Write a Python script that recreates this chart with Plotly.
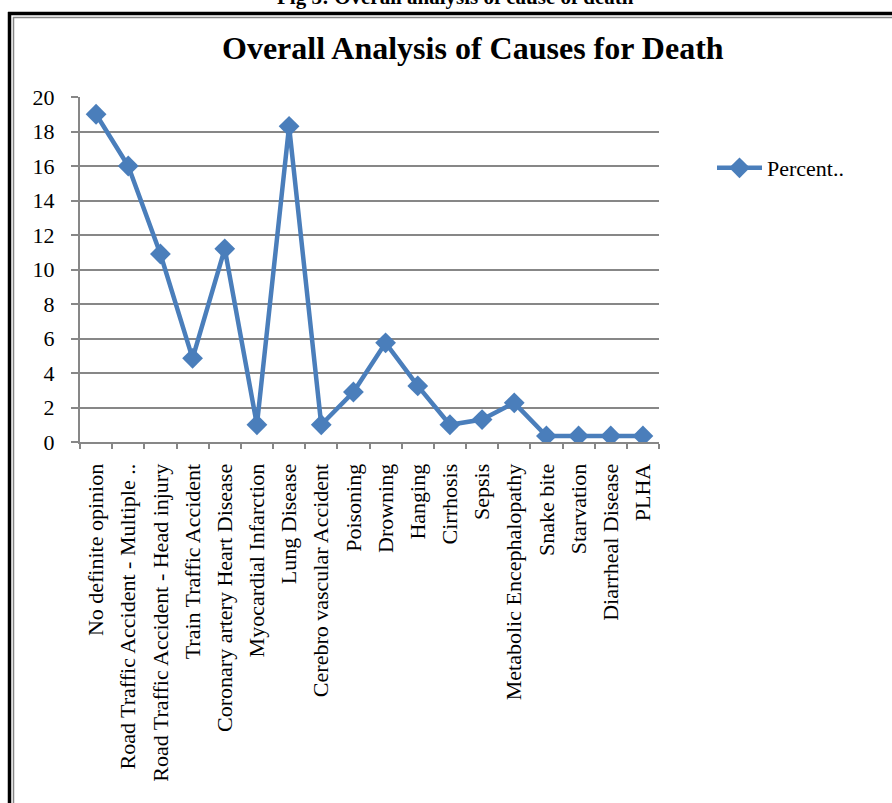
import plotly.graph_objects as go

# Causes of death and their share (percent)
causes = [
    "No definite opinion",
    "Road Traffic Accident - Multiple ..",
    "Road Traffic Accident - Head injury",
    "Train Traffic Accident",
    "Coronary artery Heart Disease",
    "Myocardial Infarction",
    "Lung Disease",
    "Cerebro vascular Accident",
    "Poisoning",
    "Drowning",
    "Hanging",
    "Cirrhosis",
    "Sepsis",
    "Metabolic Encephalopathy",
    "Snake bite",
    "Starvation",
    "Diarrheal Disease",
    "PLHA",
]
percent = [19.0, 16.0, 10.9, 4.85, 11.2, 1.0, 18.3, 1.0, 2.9, 5.75,
           3.25, 1.0, 1.3, 2.27, 0.35, 0.35, 0.35, 0.35]
y_ticks = [0, 2, 4, 6, 8, 10, 12, 14, 16, 18, 20]

W, H = 892, 803
L, R, T, B = 80, 659, 97, 442
FONT = "Liberation Serif, Times New Roman, serif"
BLUE = "#4A7EBB"
GRAY = "#878787"


def px(x):
    return (x - L) / (R - L)


def py(y):
    return (B - y) / (B - T)


fig = go.Figure()
fig.add_trace(go.Scatter(
    x=causes, y=percent, mode="lines+markers", name="Percent..",
    line=dict(color=BLUE, width=4.5),
    marker=dict(symbol="diamond", size=16, color=BLUE),
))


def frame_line(x0, y0, x1, y1, color, width):
    return dict(type="line", xref="paper", yref="paper",
                x0=px(x0), x1=px(x1), y0=py(y0), y1=py(y1),
                line=dict(color=color, width=width), layer="above")


shapes = [
    # outer heavy frame
    frame_line(9.5, 12, 9.5, H + 5, "black", 3.5),
    frame_line(8, 13.5, W + 5, 13.5, "black", 3.5),
    # inner thin frame
    frame_line(13.5, 17, 13.5, H + 5, GRAY, 1.5),
    frame_line(13, 17.5, W + 5, 17.5, GRAY, 1.5),
]

annotations = [
    dict(text="<b>Fig 3: Overall analysis of cause of death</b>",
         x=px(455), y=py(11), xref="paper", yref="paper",
         xanchor="center", yanchor="bottom", showarrow=False,
         font=dict(family=FONT, size=21, color="black")),
    dict(text="<b>Overall Analysis of Causes for Death</b>",
         x=px(473), y=py(48), xref="paper", yref="paper",
         xanchor="center", yanchor="middle", showarrow=False,
         font=dict(family=FONT, size=32, color="black")),
]

fig.update_layout(
    width=W, height=H,
    margin=dict(l=L, r=W - R, t=T, b=H - B, pad=0),
    paper_bgcolor="white", plot_bgcolor="white",
    font=dict(family=FONT, size=21, color="black"),
    showlegend=True,
    legend=dict(x=px(712), y=py(168), xanchor="left", yanchor="middle",
                font=dict(family=FONT, size=22, color="black"),
                bgcolor="rgba(0,0,0,0)", itemwidth=45),
    shapes=shapes,
    annotations=annotations,
    xaxis=dict(
        type="category", range=[-0.5, len(causes) - 0.5],
        tickson="boundaries", ticks="outside", ticklen=5, tickwidth=2,
        tickcolor=GRAY, showline=True, linecolor=GRAY, linewidth=2,
        showgrid=False, tickangle=-90, ticklabelstandoff=11,
        tickfont=dict(family=FONT, size=22, color="black"),
    ),
    yaxis=dict(
        range=[0, 20], tickvals=y_ticks, ticks="outside", ticklen=7,
        tickwidth=2, tickcolor=GRAY, showline=True, linecolor=GRAY,
        linewidth=2, showgrid=True, gridcolor=GRAY, gridwidth=1.5,
        zeroline=False, ticklabelstandoff=12,
        tickfont=dict(family=FONT, size=22, color="black"),
    ),
)

fig.write_html("out.html")
